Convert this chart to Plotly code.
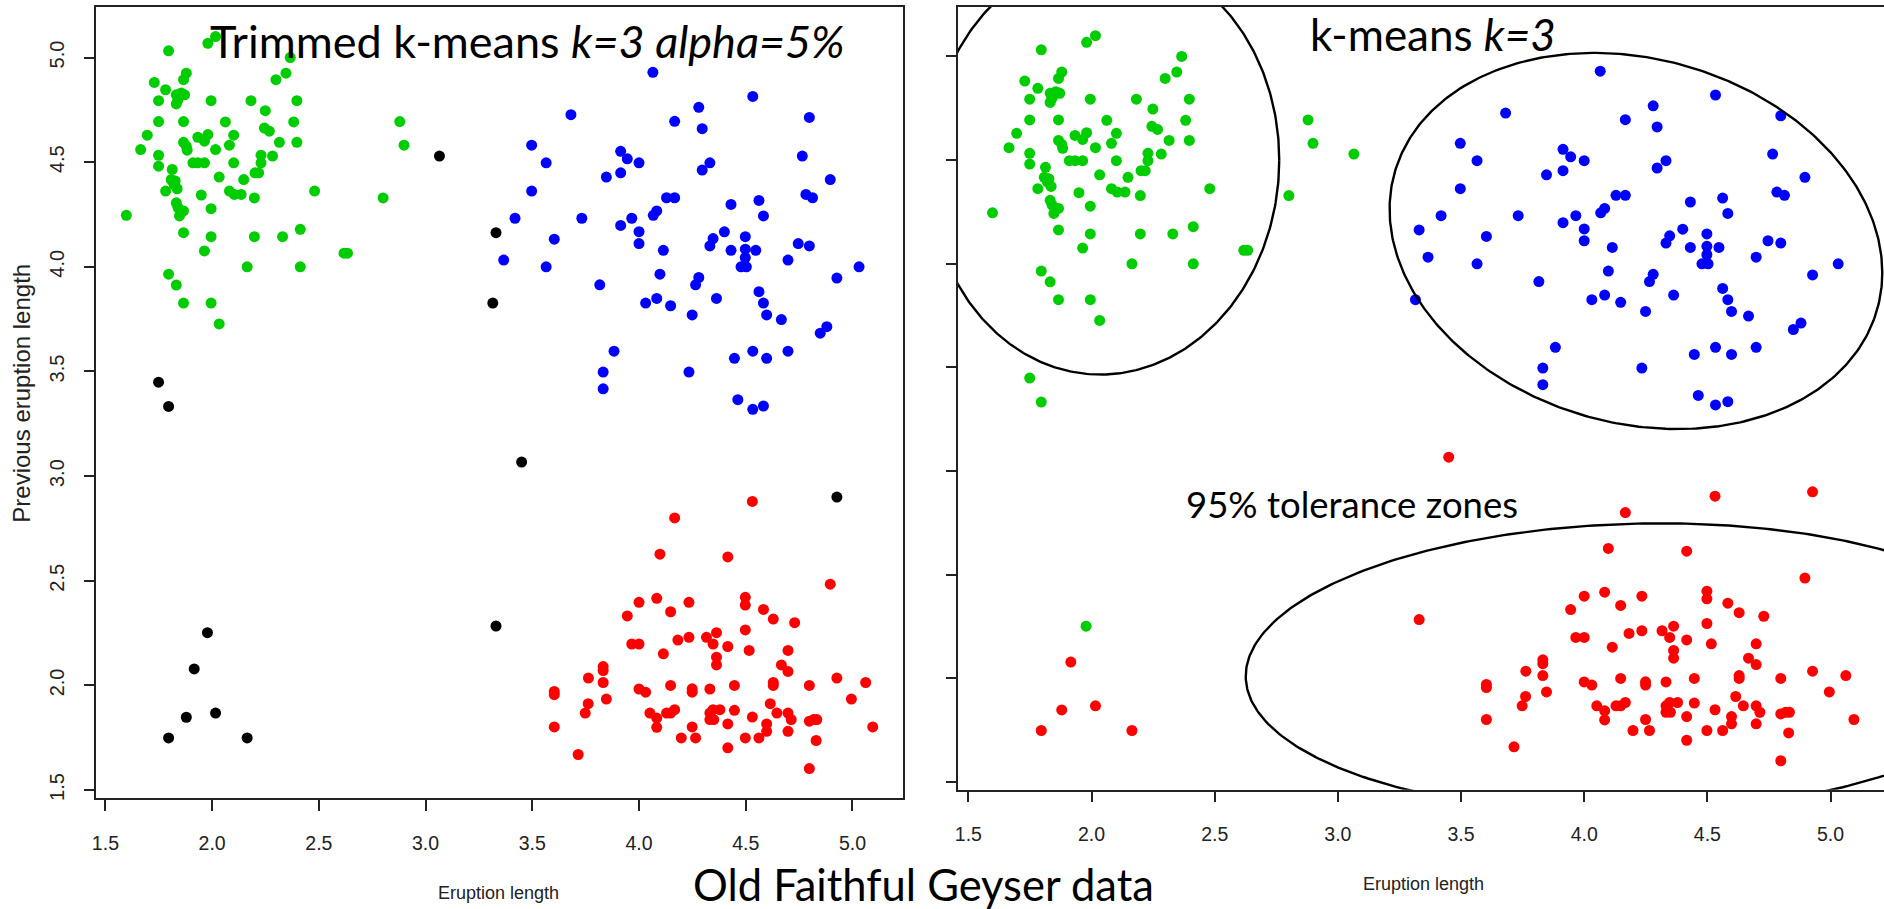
import numpy as np
import plotly.graph_objects as go

# ---------------- data (eruption length vs previous eruption length) ----------------
green_x = [1.598,1.665,1.696,1.729,1.749,1.749,1.749,1.749,1.782,1.782,
           1.796,1.796,1.813,1.808,1.827,1.836,1.821,1.832,1.832,1.840,
           1.847,1.866,1.866,1.866,1.832,1.840,1.832,1.855,1.871,1.866,
           1.879,1.866,1.866,1.879,1.883,1.910,1.933,1.964,1.933,1.964,
           1.980,1.949,1.964,1.980,2.016,1.995,1.995,1.995,1.995,2.016,
           2.033,2.033,2.062,2.081,2.101,2.101,2.081,2.104,2.136,2.148,
           2.164,2.182,2.198,2.198,2.201,2.218,2.229,2.229,2.249,2.245,
           2.268,2.283,2.299,2.315,2.330,2.346,2.366,2.382,2.397,2.397,
           2.413,2.413,2.480,2.618,2.634,2.801,2.879,2.899]
green_y = [4.246,4.560,4.629,4.881,4.794,4.694,4.533,4.481,4.846,4.362,
           5.032,3.965,4.465,4.417,4.410,4.373,4.394,3.913,4.306,4.283,
           4.243,4.267,4.163,3.827,4.822,4.798,4.778,4.830,4.822,4.894,
           4.925,4.694,4.595,4.576,4.557,4.497,4.497,4.497,4.619,4.600,
           4.632,4.343,4.076,5.068,5.100,4.794,4.278,4.144,3.827,4.560,
           4.429,3.727,4.692,4.581,4.629,4.497,4.362,4.346,4.346,4.417,
           4.000,4.794,4.329,4.144,4.449,4.449,4.497,4.533,4.746,4.663,
           4.648,4.529,4.894,4.595,4.144,4.925,5.000,4.692,4.794,4.595,
           4.179,4.000,4.362,4.065,4.065,4.329,4.694,4.581]

blue_x = [3.497,3.565,3.497,3.419,3.366,3.603,3.565,3.681,3.732,3.816,
          3.847,3.914,3.945,4.000,3.914,3.914,3.966,4.000,4.000,3.883,
          3.832,3.832,4.065,4.067,4.083,4.114,4.098,4.031,4.083,4.148,
          4.129,4.167,4.167,4.280,4.296,4.296,4.332,4.249,4.234,4.265,
          4.280,4.332,4.347,4.363,4.400,4.431,4.431,4.447,4.463,4.498,
          4.498,4.498,4.478,4.503,4.547,4.533,4.562,4.583,4.533,4.533,
          4.583,4.562,4.583,4.598,4.598,4.667,4.698,4.698,4.746,4.798,
          4.765,4.798,4.782,4.813,4.896,4.849,4.880,4.927,5.031]
blue_y = [4.581,4.497,4.362,4.232,4.032,4.132,4.000,4.727,4.232,3.914,
          4.429,4.552,4.516,4.497,4.449,4.198,4.232,4.168,4.111,3.597,
          3.497,3.417,4.929,4.246,4.267,4.079,3.965,3.827,3.849,3.814,
          4.330,4.330,4.695,4.762,4.660,4.462,4.497,3.770,3.497,3.914,
          3.949,4.100,4.135,3.849,4.167,4.298,4.079,3.563,3.365,4.144,
          4.084,4.044,4.000,4.000,4.079,4.814,4.317,4.243,3.597,3.319,
          3.335,3.881,3.827,3.770,3.563,3.748,4.032,3.597,4.111,4.100,
          4.529,4.714,4.346,4.330,4.417,3.683,3.714,3.946,4.000]

red_x = [3.603,3.603,3.603,3.715,3.748,3.762,3.763,3.832,3.832,3.832,
         3.847,3.945,3.966,4.000,4.000,4.000,4.031,4.051,4.083,4.083,
         4.083,4.098,4.114,4.129,4.148,4.167,4.148,4.148,4.167,4.182,
         4.198,4.234,4.234,4.249,4.249,4.249,4.265,4.316,4.332,4.347,
         4.363,4.363,4.363,4.332,4.347,4.332,4.350,4.379,4.416,4.416,
         4.416,4.416,4.447,4.447,4.498,4.498,4.498,4.516,4.531,4.531,
         4.498,4.562,4.583,4.598,4.598,4.615,4.629,4.629,4.629,4.646,
         4.667,4.698,4.698,4.698,4.713,4.698,4.729,4.798,4.798,4.818,
         4.833,4.798,4.830,4.896,4.927,4.995,5.062,5.095]
red_y = [1.956,1.971,1.802,1.670,1.868,1.913,2.035,2.090,2.071,2.014,
         1.935,2.332,2.198,2.198,2.397,1.983,1.968,1.868,1.844,1.800,
         2.416,2.627,2.151,1.868,1.868,1.884,2.352,2.000,2.800,2.217,
         1.749,2.397,2.230,1.984,1.968,1.802,1.749,2.230,1.983,2.198,
         2.252,2.135,2.098,1.868,1.884,1.837,1.837,1.884,2.614,2.186,
         1.816,1.702,2.000,1.881,2.421,2.384,2.265,2.167,2.879,1.849,
         1.749,1.749,2.363,1.816,1.781,1.913,2.317,2.014,2.000,1.868,
         2.098,2.067,2.167,1.868,1.837,1.781,2.300,2.000,1.829,1.837,
         1.837,1.603,1.737,2.484,2.035,1.935,2.014,1.802]

# trimmed points (black on the left) and their plain k-means cluster (right)
trim_x = [3.065,1.749,1.796,3.330,3.315,3.450,3.330,4.927,1.978,1.916,1.879,2.016,1.796,2.164]
trim_y = [4.529,3.449,3.333,4.163,3.827,3.067,2.284,2.900,2.252,2.079,1.848,1.868,1.749,1.749]
trim_kmeans = ["green","green","green","blue","blue","red","red","red",
               "green","red","red","red","red","red"]

# 95% tolerance ellipses (centre, and shape factors)
ell_names = ["green", "blue", "red"]
ell_cx = [2.05, 4.21, 4.22]
ell_cy = [4.48, 4.11, 2.05]
ell_l11 = [0.712, 1.000, 1.594]
ell_l21 = [0.020, -0.153, 0.0395]
ell_l22 = [1.014, 0.894, 0.697]

tick_vals = [1.5, 2.0, 2.5, 3.0, 3.5, 4.0, 4.5, 5.0]
tick_text = ["1.5", "2.0", "2.5", "3.0", "3.5", "4.0", "4.5", "5.0"]

COL = {"green": "#00CD00", "blue": "#0000FF", "red": "#FF0000", "black": "#000000"}

W, H = 1884, 909
def px(x): return x / W
def py(y): return 1 - y / H

fig = go.Figure()
MS = 11

def pts(x, y, col, xa, ya):
    fig.add_trace(go.Scatter(x=x, y=y, mode="markers", xaxis=xa, yaxis=ya,
                             marker=dict(color=col, size=MS, line=dict(width=0)),
                             showlegend=False, hoverinfo="skip"))

# left panel: trimmed k-means
pts(green_x, green_y, COL["green"], "x", "y")
pts(blue_x, blue_y, COL["blue"], "x", "y")
pts(red_x, red_y, COL["red"], "x", "y")
pts(trim_x, trim_y, COL["black"], "x", "y")

# right panel: k-means (trimmed points reassigned)
groups = {"green": (list(green_x), list(green_y)),
          "blue": (list(blue_x), list(blue_y)),
          "red": (list(red_x), list(red_y))}
for xx, yy, lab in zip(trim_x, trim_y, trim_kmeans):
    groups[lab][0].append(xx)
    groups[lab][1].append(yy)
for lab in ["green", "blue", "red"]:
    pts(groups[lab][0], groups[lab][1], COL[lab], "x2", "y2")

t = np.linspace(0, 2 * np.pi, 400)
for cx, cy, a, b, c in zip(ell_cx, ell_cy, ell_l11, ell_l21, ell_l22):
    fig.add_trace(go.Scatter(x=cx + a * np.cos(t), y=cy + b * np.cos(t) + c * np.sin(t),
                             mode="lines", xaxis="x2", yaxis="y2",
                             line=dict(color="black", width=2.4),
                             showlegend=False, hoverinfo="skip"))

xfont = dict(family="Liberation Sans, Arial", size=19.5, color="#222")
yfont = dict(family="Liberation Sans, Arial", size=20, color="#222")
LINE = dict(showline=True, linecolor="#222", linewidth=1.6, showgrid=False, zeroline=False,
            ticks="outside", ticklen=11, tickwidth=1.5, tickcolor="#222",
            tickvals=tick_vals, ticktext=tick_text)

fig.update_layout(
    width=W, height=H, margin=dict(l=0, r=0, t=0, b=0),
    paper_bgcolor="white", plot_bgcolor="white",
    xaxis=dict(domain=[px(91.7), px(900)], range=[1.458, 5.235], mirror=True,
               tickfont=xfont, ticklabelstandoff=15, anchor="y", **LINE),
    yaxis=dict(domain=[py(801), py(7.3)], range=[1.4605, 5.24], mirror=True,
               tickfont=yfont, tickangle=-90, ticklabelstandoff=12, anchor="x", **LINE),
    xaxis2=dict(domain=[px(955.3), 1.0], range=[1.457, 5.217], mirror=True,
                tickfont=xfont, ticklabelstandoff=15, anchor="y2", **LINE),
    yaxis2=dict(domain=[py(792.3), py(6.7)], range=[1.4635, 5.24], mirror=False,
                showticklabels=False, anchor="x2", **{**LINE, "ticklen": 10}),
)

TF = "Lato, Open Sans, sans-serif"
AF = dict(family="Liberation Sans, Arial", size=18, color="#222")
ann = [
    dict(text="Trimmed k-means <i>k=3 alpha=5%</i>", x=px(204), y=py(41), xanchor="left",
         yanchor="middle", font=dict(family=TF, size=45, color="black")),
    dict(text="k-means <i>k=3</i>", x=px(1306), y=py(34), xanchor="left", yanchor="middle",
         font=dict(family=TF, size=44, color="black")),
    dict(text="95% tolerance zones", x=px(1182), y=py(506), xanchor="left", yanchor="middle",
         font=dict(family=TF, size=36.5, color="black")),
    dict(text="Old Faithful Geyser data", x=px(688), y=py(887), xanchor="left",
         yanchor="middle", font=dict(family=TF, size=43.5, color="black")),
    dict(text="Eruption length", x=px(495), y=py(896), xanchor="center", yanchor="middle",
         font=AF),
    dict(text="Eruption length", x=px(1422), y=py(887), xanchor="center", yanchor="middle",
         font=AF),
    dict(text="Previous eruption length", x=px(17), y=py(394), xanchor="center",
         yanchor="middle", textangle=-90,
         font=dict(family="Liberation Sans, Arial", size=24, color="#222")),
]
for a in ann:
    a.update(xref="paper", yref="paper", showarrow=False)
fig.update_layout(annotations=ann)

fig.write_html("out.html")
